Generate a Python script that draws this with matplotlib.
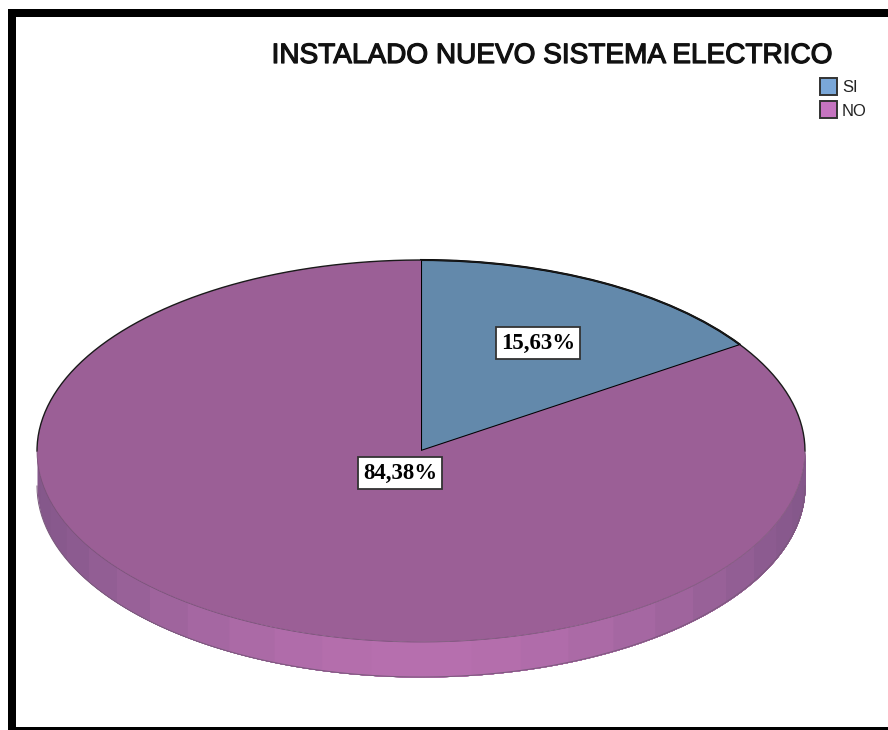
#!/usr/bin/env python3

import numpy as np
import matplotlib
matplotlib.use('Agg')
import matplotlib.pyplot as plt
import matplotlib.patheffects as pe
from matplotlib.patches import Patch, Rectangle
from matplotlib.colors import to_rgb

title = 'INSTALADO NUEVO SISTEMA ELECTRICO'
labels = ['SI', 'NO']
values = [15.63, 84.38]
top_colors = ['#6389ab', '#9b5f96']
legend_colors = ['#7aa7d8', '#c574c0']

W, H = 888, 730
CX, CY = 421, 451   # centro de la tarta en pixeles
RX, RY = 384, 191
DEPTH = 35 / RY

fig = plt.figure(figsize=(W / 100, H / 100), dpi=100, facecolor='white')
ax = fig.add_axes([0, 0, 1, 1])

# Canto de la tarta: cada tramo llega hasta el final y el siguiente lo pisa, asi no quedan rendijas
edges = np.linspace(np.pi, 2 * np.pi, 25)
dark = np.array(to_rgb('#84578a'))
light = np.array(to_rgb('#b66fae'))
for a, b in zip(edges[:-1], edges[1:]):
    t = np.linspace(a, 2 * np.pi, 150)
    mid = (a + b) / 2
    shade = abs(np.sin(mid)) ** 2.2
    ax.fill_between(np.cos(t), np.sin(t), np.sin(t) - DEPTH,
                    color=dark + (light - dark) * shade, lw=0, zorder=1)

t = np.linspace(np.pi, 2 * np.pi, 200)
ax.plot(np.cos(t), np.sin(t) - DEPTH, color='#7a5a7c', lw=0.7, zorder=2)

wedges, _ = ax.pie(values, colors=top_colors, startangle=90, counterclock=False, radius=1)
for w in wedges:
    w.set_zorder(3)
wedges[0].set_edgecolor('black')
wedges[0].set_linewidth(1.5)

# Borde superior negro, el frontal casi no se ve
t = np.linspace(0, np.pi, 200)
ax.plot(np.cos(t), np.sin(t), color='#1a1a1a', lw=1.0, zorder=4)
t = np.linspace(np.pi, 2 * np.pi, 200)
ax.plot(np.cos(t), np.sin(t), color='#7a5279', lw=0.6, zorder=4)

ax.set_aspect('auto')
ax.set_xlim(-CX / RX, (W - CX) / RX)
ax.set_ylim((CY - H) / RY, CY / RY)
ax.axis('off')

box = dict(boxstyle='square,pad=0.22', fc='white', ec='#333333', lw=1.3)
label_pos = [(538, 343), (400, 473)]
for v, (px, py) in zip(values, label_pos):
    ax.text(px / W, 1 - py / H, f'{v:.2f}%'.replace('.', ','), transform=ax.transAxes,
            ha='center', va='center', family='Liberation Serif', weight='bold',
            fontsize=16.5, color='black', bbox=box, zorder=6)

fig.text(551.5 / W, 1 - 56 / H, title, ha='center', va='center',
         family='Liberation Sans', fontsize=20.15, color='#111111',
         path_effects=[pe.withStroke(linewidth=0.9, foreground='#111111')])

handles = [Patch(fc=c, ec='#333333', lw=1.4) for c in legend_colors]
ax.legend(handles, labels, loc='upper left', bbox_to_anchor=(820 / W, 1 - 78 / H),
          bbox_transform=fig.transFigure, frameon=False, borderpad=0, borderaxespad=0,
          prop={'family': 'Liberation Sans', 'size': 12},
          handlelength=1.02, handleheight=1.19, handletextpad=0.3, labelspacing=0.38,
          labelcolor='#222222')

# Marco negro: arriba, izquierda y abajo
for x0, y0, w, h in [(8, 9, W - 8, 8), (8, 9, 8, H - 9), (8, 727, W - 8, 3)]:
    fig.add_artist(Rectangle((x0 / W, 1 - (y0 + h) / H), w / W, h / H,
                             transform=fig.transFigure, fc='black', ec='none'))

fig.savefig('out.png', dpi=100)
